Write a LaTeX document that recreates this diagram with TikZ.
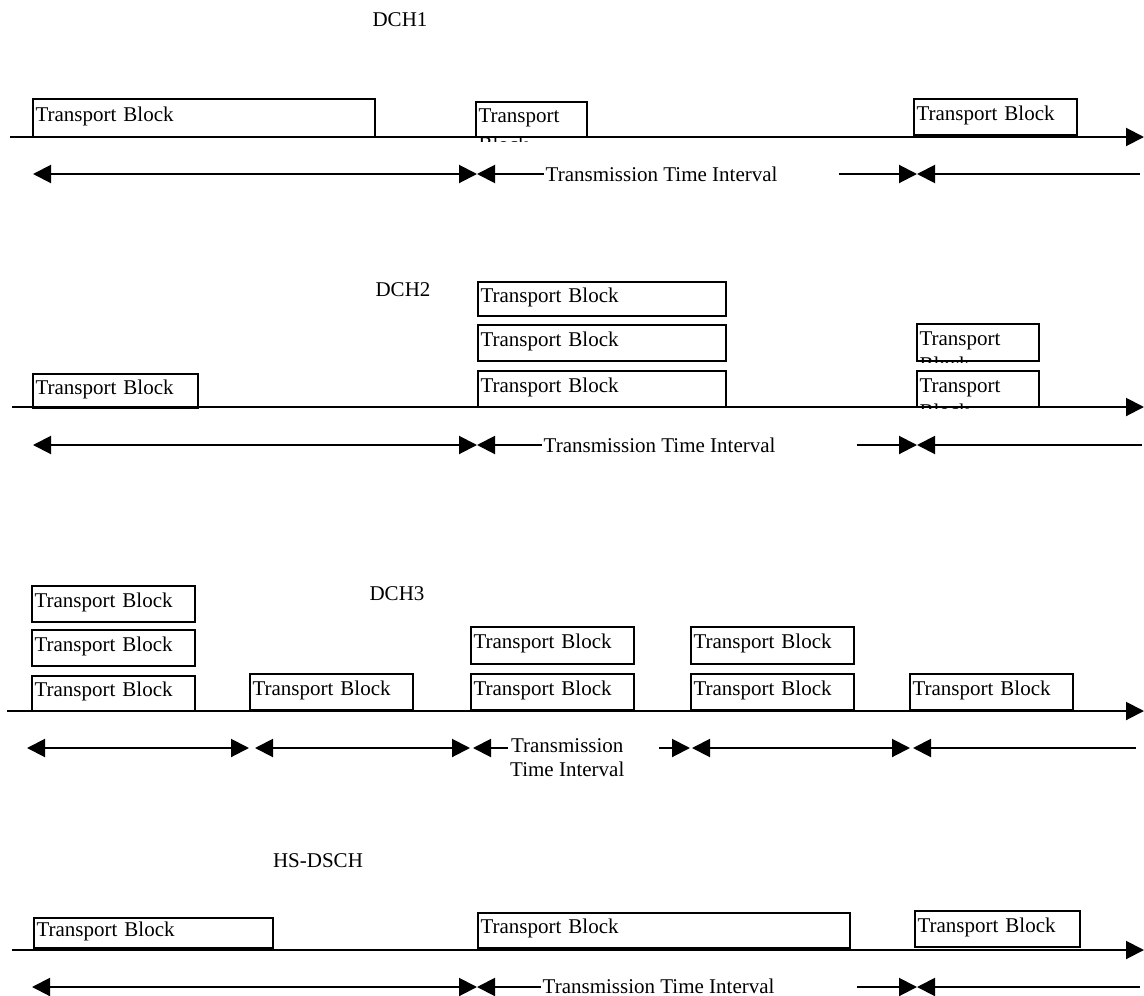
\documentclass[tikz,border=0pt]{standalone}
\usepackage{fontspec}
\setmainfont{Liberation Serif}
\usetikzlibrary{arrows.meta,positioning}
\tikzset{
  >={Triangle[length=18pt,width=18pt]},
  tblock/.style 2 args={draw, line width=2pt, anchor=north west, outer sep=0pt, inner xsep=2.5pt, inner ysep=0pt, text width=#1pt-5pt, minimum height=#2pt, align=left, text height=14pt, text depth=8pt},
  timeaxis/.style={->, line width=2pt},
  ttiarr/.style={line width=2pt},
  chname/.style={inner sep=0pt},
  ttitext/.style={inner xsep=1.5pt, inner ysep=0pt, anchor=west}
}

\begin{document}
\begin{tikzpicture}[x=1pt,y=-1pt,font=\fontsize{21pt}{24pt}\selectfont]
  \useasboundingbox (0,0) rectangle (1144,996);
  % DCH1
  \node[chname] (dch1) at (400,20) {DCH1};
  \coordinate (ax1s) at (10,137);
  \coordinate (ax1e) at (1144,137);
  \draw[timeaxis] (ax1s) -- (ax1e);
  \node[tblock={342}{38}] (b1a) at (33,99) {Transport Block};
  \begin{scope}
    \clip (473,99) rectangle (590,141);
    \node[tblock={111}{35}] (b1b) at (476,102) {Transport\\[5pt]Block};
  \end{scope}
  \node[tblock={163}{36}] (b1c) at (914,99) {Transport Block};
  \coordinate (t1a) at (33,174);
  \coordinate (t1b) at (477,174);
  \coordinate (t1c) at (839,174);
  \coordinate (t1d) at (917,174);
  \coordinate (t1e) at (1140,174);
  \node[ttitext] (tti1) at (544,174) {Transmission Time Interval};
  \draw[ttiarr,<->] (t1a) -- (t1b);
  \draw[ttiarr,<-] (t1b) -- (tti1.west);
  \draw[ttiarr,->] (t1c) -- (t1d);
  \draw[ttiarr,<-] (t1d) -- (t1e);
  % DCH2
  \node[chname] (dch2) at (403,290) {DCH2};
  \coordinate (ax2s) at (12,407);
  \coordinate (ax2e) at (1144,407);
  \draw[timeaxis] (ax2s) -- (ax2e);
  \node[tblock={165}{34}] (b2a) at (33,374) {Transport Block};
  \node[tblock={248}{34}] (b2b) at (478,282) {Transport Block};
  \node[tblock={248}{36}] (b2c) at (478,325) {Transport Block};
  \node[tblock={248}{36}] (b2d) at (478,371) {Transport Block};
  \begin{scope}
    \clip (914,321) rectangle (1042,362);
    \node[tblock={122}{37}] (b2e) at (917,324) {Transport\\[2pt]Block};
  \end{scope}
  \begin{scope}
    \clip (914,368) rectangle (1042,408);
    \node[tblock={122}{36}] (b2f) at (917,371) {Transport\\[2pt]Block};
  \end{scope}
  \coordinate (t2a) at (33,445);
  \coordinate (t2b) at (477,445);
  \coordinate (t2c) at (857,445);
  \coordinate (t2d) at (917,445);
  \coordinate (t2e) at (1142,445);
  \node[ttitext] (tti2) at (542,445) {Transmission Time Interval};
  \draw[ttiarr,<->] (t2a) -- (t2b);
  \draw[ttiarr,<-] (t2b) -- (tti2.west);
  \draw[ttiarr,->] (t2c) -- (t2d);
  \draw[ttiarr,<-] (t2d) -- (t2e);
  % DCH3
  \node[chname] (dch3) at (397,594) {DCH3};
  \coordinate (ax3s) at (7,711);
  \coordinate (ax3e) at (1144,711);
  \draw[timeaxis] (ax3s) -- (ax3e);
  \node[tblock={163}{36}] (b3a) at (32,586) {Transport Block};
  \node[tblock={163}{36}] (b3b) at (32,630) {Transport Block};
  \node[tblock={163}{35}] (b3c) at (32,676) {Transport Block};
  \node[tblock={163}{36}] (b3d) at (250,674) {Transport Block};
  \node[tblock={163}{37}] (b3e) at (471,627) {Transport Block};
  \node[tblock={163}{36}] (b3f) at (471,674) {Transport Block};
  \node[tblock={163}{37}] (b3g) at (691,627) {Transport Block};
  \node[tblock={163}{36}] (b3h) at (691,674) {Transport Block};
  \node[tblock={163}{36}] (b3i) at (910,674) {Transport Block};
  \coordinate (t3a) at (27,748);
  \coordinate (t3b) at (249,748);
  \coordinate (t3c) at (255,748);
  \coordinate (t3d) at (470,748);
  \coordinate (t3e) at (473,748);
  \coordinate (t3f) at (659,748);
  \coordinate (t3g) at (690,748);
  \coordinate (t3h) at (692,748);
  \coordinate (t3i) at (910,748);
  \coordinate (t3j) at (913,748);
  \coordinate (t3k) at (1136,748);
  \node[inner sep=0pt, anchor=north west, align=center] (tti3) at (510,738) {Transmission\\Time Interval};
  \draw[ttiarr,<->] (t3a) -- (t3b);
  \draw[ttiarr,<->] (t3c) -- (t3d);
  \draw[ttiarr,<-] (t3e) -- ([xshift=-2pt]tti3.west |- t3e);
  \draw[ttiarr,->] (t3f) -- (t3g);
  \draw[ttiarr,<->] (t3h) -- (t3i);
  \draw[ttiarr,<-] (t3j) -- (t3k);
  % HS-DSCH
  \node[chname] (hsdsch) at (318,861) {HS-DSCH};
  \coordinate (ax4s) at (12,950);
  \coordinate (ax4e) at (1144,950);
  \draw[timeaxis] (ax4s) -- (ax4e);
  \node[tblock={239}{30}] (b4a) at (34,918) {Transport Block};
  \node[tblock={372}{35}] (b4b) at (478,913) {Transport Block};
  \node[tblock={165}{36}] (b4c) at (915,911) {Transport Block};
  \coordinate (t4a) at (32,987);
  \coordinate (t4b) at (477,987);
  \coordinate (t4c) at (857,987);
  \coordinate (t4d) at (917,987);
  \coordinate (t4e) at (1140,987);
  \node[ttitext] (tti4) at (541,986) {Transmission Time Interval};
  \draw[ttiarr,<->] (t4a) -- (t4b);
  \draw[ttiarr,<-] (t4b) -- (tti4.west |- t4b);
  \draw[ttiarr,->] (t4c) -- (t4d);
  \draw[ttiarr,<-] (t4d) -- (t4e);
\end{tikzpicture}
\end{document}
